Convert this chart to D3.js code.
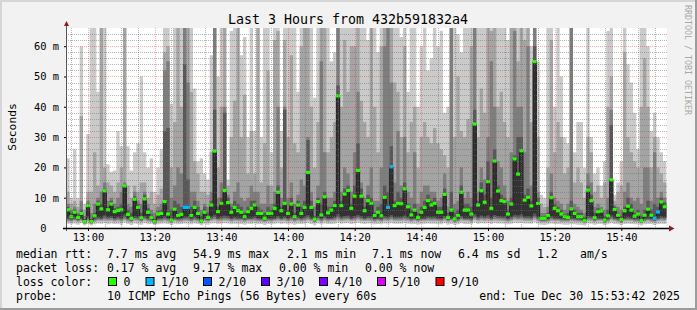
<!DOCTYPE html>
<html>
<head>
<meta charset="utf-8">
<script src="https://cdn.jsdelivr.net/npm/d3@7"></script>
<style>
  body { margin: 0; background: #f2f2f2; }
  svg { display: block; font-family: "DejaVu Sans Mono", monospace; }
</style>
</head>
<body>
<svg id="chart" width="697" height="310"></svg>
<script>
// ---- data (ms), one value per 60 s step, 10 pings sorted per step ----
const startTime = new Date(2025, 11, 30, 12, 53, 42)
const endTime = new Date(2025, 11, 30, 15, 53, 42)
const firstStep = new Date(2025, 11, 30, 12, 53, 30)
const stepMs = 60000

const median = [
  6, 3.7, 5.2, 3.5, 4.8, 2.1, 7.4, 2.1, 4, 7.9,
  6.3, 12.3, 6, 7.9, 5.4, 5.8, 6, 13.9, 4.5, 3.2,
  9.5, 6.8, 3.4, 9.6, 5.2, 3.5, 2.1, 4.6, 4.8, 8.7,
  4.6, 2.6, 6.2, 4.1, 4.5, 6.8, 6.8, 4.1, 6.8, 4.8,
  2.3, 5.2, 3.5, 7.6, 25.4, 5.4, 8.1, 12.4, 8.4, 5.2,
  6.8, 5.7, 5.2, 3.7, 5.4, 6.5, 7.6, 4.8, 4.8, 3.2,
  4.8, 4.8, 6.5, 11.8, 5.7, 8.1, 4.8, 7.9, 3.7, 7.6,
  4.8, 6.8, 18.3, 6.8, 2.9, 8.7, 4.3, 10.3, 5.0, 5.9,
  7.4, 43.6, 7.4, 11.2, 12.4, 6.5, 10.5, 19, 10.5, 5.7,
  9.0, 8.1, 4.1, 5.2, 4.0, 10.1, 6.8, 20.2, 7.4, 8.1,
  8.0, 12.9, 7.0, 4.3, 5.9, 3.5, 5.2, 6.8, 9.0, 7.6,
  8.1, 5.2, 5.2, 11.1, 3.5, 5.9, 3.0, 4.1, 11.8, 5.9,
  5.9, 4.6, 34.3, 7.6, 12.3, 8.5, 15.3, 6.5, 22.1, 12.2,
  9.0, 8.7, 4.6, 7.9, 22.8, 17.8, 25.5, 9.2, 10.1, 7.3,
  54.9, 8.1, 3.2, 3.2, 4.1, 10.0, 6.5, 5.7, 4.6, 3.7,
  3.5, 6.3, 4.8, 3.7, 3.7, 2.4, 12.5, 9.0, 3.4, 5.4,
  5.6, 2.6, 4.0, 15.9, 6.1, 4.2, 2.8, 5.7, 7.2, 5.9,
  3.9, 4.6, 2.4, 4.2, 6.2, 4.2, 3.2, 5.3, 8.6, 7.0
]

// steps with packet loss (in tenths), all others 0
const lossSteps = [35, 36, 96, 97, 176, 177]
const lossTenths = [1, 1, 1, 1, 1, 1]

const p1 = [
  1.4, 1.2, 1.5, 1.1, 1.6, 0.9, 1.3, 0.8, 1.2, 1.5,
  1.4, 1.6, 1.2, 1.5, 1.3, 1.4, 1.1, 1.7, 1.3, 1.0,
  1.5, 1.3, 1.1, 1.6, 1.2, 1.3, 0.9, 1.2, 1.4, 1.5,
  1.3, 1.0, 1.4, 1.2, 1.3, 1.5, 1.4, 1.2, 1.5, 1.3,
  0.9, 1.4, 1.1, 1.5, 1.6, 1.3, 1.4, 1.6, 1.5, 1.2,
  1.4, 1.3, 1.3, 1.1, 1.4, 1.3, 1.5, 1.2, 1.3, 1.0,
  1.3, 1.2, 1.4, 1.6, 1.3, 1.5, 1.2, 1.4, 1.1, 1.4,
  1.3, 1.4, 1.7, 1.3, 0.9, 1.5, 1.2, 1.5, 1.3, 1.3,
  1.4, 1.8, 1.4, 1.6, 1.6, 1.3, 1.5, 1.7, 1.5, 1.3,
  1.5, 1.4, 1.2, 1.3, 1.2, 1.5, 1.4, 1.6, 1.4, 1.4,
  1.4, 1.6, 1.4, 1.2, 1.3, 1.1, 1.3, 1.4, 1.5, 1.4,
  1.4, 1.3, 1.2, 1.6, 1.1, 1.3, 1.0, 1.2, 1.6, 1.3,
  1.3, 1.2, 1.8, 1.4, 1.6, 1.5, 1.6, 1.3, 1.7, 1.5,
  1.5, 1.4, 1.2, 1.4, 1.7, 1.6, 1.7, 1.5, 1.5, 1.4,
  1.9, 1.4, 1.1, 1.0, 1.2, 1.5, 1.3, 1.3, 1.2, 1.1,
  1.1, 1.3, 1.2, 1.1, 1.0, 0.8, 1.5, 1.4, 1.1, 1.3,
  1.3, 0.9, 1.2, 1.6, 1.3, 1.2, 0.9, 1.3, 1.4, 1.3,
  1.2, 1.2, 0.8, 1.2, 1.3, 1.2, 1.0, 1.3, 1.4, 1.3
]
const p2 = [
  2.1, 2.0, 2.2, 1.9, 2.2, 1.3, 2.2, 1.3, 2.0, 2.3,
  2.2, 2.4, 2.2, 2.3, 2.1, 2.2, 2.1, 2.5, 2.1, 1.9,
  2.3, 2.2, 1.9, 2.4, 2.1, 2.0, 1.3, 2.1, 2.1, 2.2,
  2.1, 1.6, 2.2, 2.0, 2.1, 2.2, 2.3, 2.0, 2.2, 2.1,
  1.5, 2.2, 1.9, 2.3, 2.5, 2.1, 2.2, 2.4, 2.3, 2.1,
  2.2, 2.2, 2.1, 2.0, 2.2, 2.1, 2.3, 2.1, 2.1, 1.9,
  2.1, 2.1, 2.2, 2.4, 2.2, 2.3, 2.1, 2.2, 2.0, 2.2,
  2.1, 2.2, 2.5, 2.2, 1.7, 2.3, 2.0, 2.3, 2.1, 2.2,
  2.2, 2.6, 2.2, 2.4, 2.5, 2.2, 2.3, 2.6, 2.3, 2.2,
  2.3, 2.2, 2.0, 2.2, 2.0, 2.3, 2.2, 2.5, 2.2, 2.2,
  2.2, 2.4, 2.2, 2.0, 2.2, 2.0, 2.2, 2.2, 2.3, 2.2,
  2.2, 2.2, 2.1, 2.4, 2.0, 2.2, 1.8, 2.0, 2.4, 2.2,
  2.2, 2.0, 2.6, 2.2, 2.5, 2.3, 2.5, 2.2, 2.5, 2.4,
  2.3, 2.2, 2.0, 2.2, 2.6, 2.5, 2.6, 2.3, 2.3, 2.2,
  2.7, 2.2, 1.9, 1.9, 2.0, 2.3, 2.2, 2.2, 2.0, 2.0,
  2.0, 2.2, 2.1, 2.0, 1.9, 1.5, 2.4, 2.2, 1.9, 2.2,
  2.2, 1.5, 2.0, 2.5, 2.2, 2.0, 1.6, 2.2, 2.2, 2.2,
  2.0, 2.0, 1.5, 2.0, 2.2, 2.0, 1.8, 2.2, 2.3, 2.2
]
const p3 = [
  2.5, 2.4, 2.6, 2.3, 2.6, 1.5, 2.7, 1.5, 2.4, 2.7,
  2.6, 2.9, 2.7, 2.8, 2.5, 2.7, 2.5, 3.0, 2.5, 2.2,
  2.8, 2.7, 2.3, 2.9, 2.5, 2.4, 1.5, 2.5, 2.5, 2.7,
  2.5, 1.9, 2.6, 2.4, 2.5, 2.7, 2.7, 2.4, 2.7, 2.5,
  1.7, 2.6, 2.3, 2.7, 3.0, 2.6, 2.7, 2.9, 2.8, 2.5,
  2.7, 2.6, 2.6, 2.4, 2.6, 2.6, 2.7, 2.5, 2.5, 2.2,
  2.5, 2.5, 2.6, 2.9, 2.6, 2.8, 2.5, 2.7, 2.4, 2.7,
  2.5, 2.7, 3.0, 2.6, 2.0, 2.8, 2.4, 2.8, 2.5, 2.6,
  2.7, 3.2, 2.7, 2.9, 3.0, 2.6, 2.8, 3.1, 2.8, 2.6,
  2.8, 2.7, 2.4, 2.6, 2.4, 2.8, 2.7, 3.0, 2.7, 2.7,
  2.7, 2.9, 2.7, 2.4, 2.6, 2.4, 2.6, 2.6, 2.8, 2.7,
  2.7, 2.6, 2.5, 2.9, 2.4, 2.6, 2.1, 2.4, 2.9, 2.6,
  2.6, 2.4, 3.2, 2.7, 3.0, 2.8, 3.0, 2.6, 3.0, 2.9,
  2.8, 2.7, 2.4, 2.7, 3.1, 3.0, 3.1, 2.8, 2.8, 2.7,
  3.3, 2.7, 2.2, 2.2, 2.4, 2.8, 2.6, 2.6, 2.4, 2.4,
  2.4, 2.6, 2.5, 2.4, 2.3, 1.8, 2.9, 2.7, 2.3, 2.6,
  2.6, 1.8, 2.4, 3.0, 2.6, 2.4, 1.9, 2.6, 2.7, 2.6,
  2.4, 2.4, 1.8, 2.4, 2.6, 2.4, 2.2, 2.6, 2.8, 2.7
]
const p4 = [
  2.9, 2.7, 3.0, 2.6, 3.0, 1.7, 3.2, 1.7, 2.8, 3.1,
  3.0, 3.5, 3.1, 3.3, 2.9, 3.1, 2.9, 3.6, 2.9, 2.5,
  3.3, 3.1, 2.6, 3.4, 2.9, 2.7, 1.7, 2.8, 2.9, 3.2,
  2.9, 2.1, 3.0, 2.8, 2.9, 3.1, 3.2, 2.8, 3.1, 2.9,
  1.9, 3.0, 2.6, 3.2, 3.6, 3.0, 3.2, 3.4, 3.3, 2.9,
  3.1, 3.0, 3.0, 2.7, 3.0, 3.0, 3.2, 2.9, 2.8, 2.5,
  2.9, 2.8, 3.0, 3.4, 3.0, 3.3, 2.9, 3.2, 2.8, 3.2,
  2.9, 3.1, 3.6, 3.0, 2.3, 3.3, 2.8, 3.3, 2.9, 3.0,
  3.2, 3.8, 3.1, 3.4, 3.5, 3.0, 3.3, 3.7, 3.3, 3.0,
  3.3, 3.2, 2.8, 3.0, 2.8, 3.3, 3.1, 3.6, 3.1, 3.2,
  3.2, 3.5, 3.1, 2.8, 3.0, 2.7, 3.0, 3.0, 3.3, 3.1,
  3.2, 3.0, 2.9, 3.4, 2.7, 3.0, 2.4, 2.8, 3.4, 3.0,
  3.0, 2.8, 3.8, 3.1, 3.5, 3.3, 3.5, 3.0, 3.6, 3.4,
  3.3, 3.2, 2.8, 3.2, 3.7, 3.5, 3.7, 3.3, 3.3, 3.1,
  3.9, 3.2, 2.5, 2.5, 2.8, 3.3, 3.0, 3.0, 2.8, 2.7,
  2.7, 3.0, 2.9, 2.7, 2.6, 2.0, 3.4, 3.2, 2.6, 3.0,
  3.0, 2.0, 2.8, 3.5, 3.0, 2.8, 2.2, 3.0, 3.1, 3.0,
  2.8, 2.8, 2.0, 2.8, 3.0, 2.8, 2.5, 3.0, 3.3, 3.1
]
const p5 = [
  3.4, 3.0, 3.6, 3.0, 3.5, 1.9, 3.8, 1.9, 3.2, 3.6,
  3.5, 4.2, 3.6, 3.9, 3.3, 3.7, 3.4, 4.5, 3.3, 2.8,
  3.9, 3.6, 2.9, 4.0, 3.4, 3.0, 1.9, 3.2, 3.3, 3.8,
  3.3, 2.3, 3.5, 3.1, 3.3, 3.6, 3.7, 3.2, 3.6, 3.3,
  2.1, 3.4, 2.9, 3.7, 4.4, 3.4, 3.8, 4.1, 3.9, 3.3,
  3.6, 3.5, 3.4, 3.0, 3.4, 3.5, 3.7, 3.3, 3.2, 2.8,
  3.3, 3.2, 3.5, 4.0, 3.4, 3.8, 3.3, 3.7, 3.1, 3.7,
  3.3, 3.6, 4.3, 3.5, 2.6, 3.8, 3.2, 3.9, 3.3, 3.4,
  3.7, 4.6, 3.6, 4.0, 4.1, 3.5, 3.9, 4.4, 3.9, 3.4,
  3.8, 3.7, 3.1, 3.4, 3.1, 3.9, 3.6, 4.3, 3.6, 3.7,
  3.7, 4.1, 3.6, 3.2, 3.4, 3.0, 3.4, 3.5, 3.8, 3.6,
  3.7, 3.4, 3.3, 4.0, 3.0, 3.4, 2.7, 3.1, 4.0, 3.4,
  3.5, 3.2, 4.6, 3.6, 4.1, 3.8, 4.2, 3.5, 4.3, 4.0,
  3.8, 3.7, 3.2, 3.7, 4.4, 4.2, 4.5, 3.8, 3.9, 3.6,
  4.8, 3.7, 2.8, 2.8, 3.1, 3.9, 3.5, 3.4, 3.2, 3.0,
  3.0, 3.5, 3.3, 3.0, 3.0, 2.2, 4.0, 3.8, 2.9, 3.4,
  3.4, 2.3, 3.1, 4.2, 3.5, 3.2, 2.5, 3.4, 3.6, 3.4,
  3.1, 3.2, 2.2, 3.2, 3.5, 3.2, 2.8, 3.4, 3.8, 3.6
]
const p7 = [
  7, 5, 6, 4.5, 6, 3, 8, 3, 5, 9,
  8, 13, 7, 9, 6.5, 7, 8, 14.5, 6, 5,
  10.5, 8, 5, 11, 6.5, 4.5, 3, 5.5, 6, 32,
  33, 6, 9, 8, 7, 54, 16, 7, 9, 7,
  4, 7, 5, 9, 39, 7, 10, 38, 10, 7,
  9, 8, 7, 5, 7, 9, 9, 7, 6, 5,
  7, 6, 8, 14, 7, 39, 6, 10, 5, 9,
  7, 9, 29, 9, 4, 10, 8, 12, 7, 7,
  9, 47, 9, 13, 14, 8, 14, 28, 13, 7,
  11, 10, 5, 7, 8, 14, 12, 27, 9, 12,
  10, 15, 8, 6, 8, 5, 7, 9, 11, 9,
  10, 7, 7, 13, 5, 12, 5, 6, 14, 8,
  8, 7, 39, 9, 15, 11, 22, 10, 26, 14,
  11, 10, 6, 10, 24, 30, 30, 11, 13, 9,
  60, 10, 4, 4, 5, 12, 8, 7, 6, 4.5,
  5, 9, 6, 5, 5, 3.5, 14, 11, 5, 6.5,
  6, 4, 6, 34, 7, 5, 4, 7, 10, 8,
  5, 6, 4, 6, 9, 6, 8, 7, 10, 8.5
]
const p8 = [
  8, 6, 7, 5, 9, 4, 9, 5, 8, 10,
  12, 15, 9, 10, 8, 10, 12, 15, 8, 7,
  12, 9, 8, 12, 8, 6, 5, 7, 8, 52,
  55, 10, 14, 20, 18, 70, 48, 12, 12, 9,
  6, 8, 7, 12, 70, 10, 15, 40, 11, 8,
  12, 15, 10, 9, 10, 14, 12, 12, 8, 8,
  14, 8, 12, 40, 10, 40, 10, 15, 8, 11,
  16, 14, 30, 12, 7, 14, 55, 25, 10, 10,
  12, 70, 12, 20, 18, 12, 25, 45, 15, 10,
  14, 20, 9, 9, 20, 60, 70, 48, 15, 32,
  14, 30, 12, 10, 25, 8, 12, 14, 14, 12,
  12, 9, 10, 18, 7, 70, 8, 9, 20, 10,
  12, 10, 70, 12, 20, 16, 30, 55, 40, 22,
  20, 14, 9, 25, 65, 40, 40, 25, 60, 14,
  70, 12, 5, 5, 7, 18, 10, 9, 8, 6,
  8, 70, 8, 7, 6, 5, 18, 15, 7, 8,
  7, 6, 10, 39, 7.5, 7, 6, 12, 15, 10,
  9, 10, 8, 20, 20, 9, 25, 10, 12, 10
]
const p9 = [
  12, 8, 9, 7, 37, 6, 12, 12, 25, 14,
  70, 20, 15, 14, 12, 15, 20, 70, 14, 10,
  14, 12, 15, 15, 10, 12, 8, 11, 13, 58,
  60, 20, 35, 70, 40, 70, 70, 45, 22, 18,
  12, 12, 11, 25, 70, 20, 40, 70, 14, 30,
  42, 70, 30, 44, 18, 32, 18, 70, 15, 28,
  52, 14, 62, 65, 20, 62, 30, 57, 28, 25,
  60, 70, 70, 40, 20, 35, 70, 70, 25, 30,
  35, 70, 40, 62, 45, 60, 60, 70, 42, 35,
  30, 70, 40, 25, 60, 70, 70, 70, 48, 45,
  30, 60, 25, 35, 40, 20, 30, 35, 30, 28,
  33, 28, 26, 24, 20, 70, 30, 50, 32, 30,
  36, 60, 70, 30, 46, 38, 70, 65, 70, 40,
  45, 35, 30, 70, 70, 55, 70, 62, 70, 35,
  70, 30, 8, 7, 20, 62, 25, 35, 30, 18,
  20, 70, 15, 20, 15, 10, 30, 25, 12, 14,
  10, 15, 40, 50, 9, 12, 14, 58, 30, 25,
  22, 20, 40, 56, 40, 20, 30, 20, 18, 15
]
const p10 = [
  23, 10, 26, 10, 60, 8, 31, 70, 70, 45,
  70, 70, 21, 18.6, 19, 32, 27, 70, 27, 19,
  25, 28, 50, 25, 20, 23, 12, 20, 26, 70,
  70, 41, 70, 70, 70, 70, 70, 70, 46, 22,
  23, 18, 16, 57, 70, 50, 70, 70, 16, 65,
  70, 70, 57, 63, 30, 70, 32, 70, 30, 70,
  70, 25, 70, 70, 32, 70, 70, 70, 70, 45,
  70, 70, 70, 70, 43, 70, 70, 70, 70, 55,
  58, 70, 70, 70, 70, 70, 70, 70, 70, 70,
  62, 70, 70, 58, 70, 70, 70, 70, 70, 70,
  63, 70, 45, 70, 70, 40, 60, 70, 52, 56,
  70, 60, 65, 38, 40, 70, 70, 64, 58, 66,
  70, 70, 70, 70, 70, 70, 70, 70, 70, 70,
  70, 66, 62, 70, 70, 70, 70, 70, 70, 60,
  70, 55, 11, 10, 70, 70, 40, 70, 50, 30,
  28, 70, 25, 35, 35, 20, 70, 30, 18, 20,
  14, 22, 65, 70, 11, 15, 22, 70, 54, 48,
  38, 26, 70, 70, 60, 32, 38, 30, 25, 22
]

const yMax = 66
const yMajorTicks = [0, 10, 20, 30, 40, 50, 60]
const lossLabels = ['0', '1/10', '2/10', '3/10', '4/10', '5/10', '9/10']
const lossTenthsKeys = [0, 1, 2, 3, 4, 5, 9]
const lossColors = ['#26ff00', '#00b8ff', '#0059ff', '#5e00ff', '#7e00ff', '#dd00ff', '#ff0000']
const rttStats = ['7.7 ms avg', '54.9 ms max', '2.1 ms min', '7.1 ms now', '6.4 ms sd', '1.2', 'am/s']
const lossStats = ['0.17 % avg', '9.17 % max', '0.00 % min', '0.00 % now']
const probeText = '10 ICMP Echo Pings (56 Bytes) every 60s'
const endText = 'end: Tue Dec 30 15:53:42 2025'
const title = 'Last 3 Hours from 432b591832a4'

// ---- layout ----
const W = 697
const H = 310
const plot = { left: 67, right: 667, top: 28, bottom: 228 }

const svg = d3.select('#chart')

const x = d3.scaleTime().domain([startTime, endTime]).range([plot.left, plot.right])
const y = d3.scaleLinear().domain([0, yMax]).range([plot.bottom, plot.top])

// dotted grid patterns: one pixel on, one off
const defs = svg.append('defs')
const dotPattern = (id, w, h, color) => {
  defs.append('pattern')
    .attr('id', id)
    .attr('patternUnits', 'userSpaceOnUse')
    .attr('width', w).attr('height', h)
    .append('rect').attr('width', 1).attr('height', 1).attr('fill', color)
}
dotPattern('vMinor', 1, 2, 'rgba(110,110,110,0.5)')
dotPattern('vMajor', 1, 2, 'rgba(255,0,0,0.32)')
dotPattern('hMinor', 2, 1, 'rgba(110,110,110,0.5)')
dotPattern('hMajor', 2, 1, 'rgba(255,0,0,0.32)')

defs.append('clipPath').attr('id', 'plotClip')
  .append('rect')
  .attr('x', plot.left).attr('y', plot.top)
  .attr('width', plot.right - plot.left).attr('height', plot.bottom - plot.top)

// frame
svg.append('rect').attr('width', W).attr('height', H).attr('fill', '#f2f2f2')
svg.append('rect').attr('x', 0).attr('y', 0).attr('width', W).attr('height', 2).attr('fill', '#d6d6d6')
svg.append('rect').attr('x', 0).attr('y', 0).attr('width', 2).attr('height', H).attr('fill', '#d6d6d6')
svg.append('rect').attr('x', W - 2).attr('y', 0).attr('width', 2).attr('height', H).attr('fill', '#9c9c9c')
svg.append('rect').attr('x', 0).attr('y', H - 2).attr('width', W).attr('height', 2).attr('fill', '#9c9c9c')

// canvas
svg.append('rect')
  .attr('x', plot.left).attr('y', plot.top)
  .attr('width', plot.right - plot.left).attr('height', plot.bottom - plot.top)
  .attr('fill', '#ffffff')

const g = svg.append('g').attr('clip-path', 'url(#plotClip)')

// step table
const steps = median.map((m, i) => ({
  t: new Date(firstStep.getTime() + i * stepMs),
  pings: [p1[i], p2[i], p3[i], p4[i], p5[i], m, p7[i], p8[i], p9[i], p10[i]],
  median: m,
  loss: lossSteps.includes(i) ? lossTenths[lossSteps.indexOf(i)] : 0,
}))
const last = steps[steps.length - 1]
const stepsClosed = steps.concat([{ ...last, t: new Date(last.t.getTime() + stepMs) }])

// smoke: outer pair lightest, inner pair darkest
const smokeColors = ['#cacaca', '#a4a4a4', '#7e7e7e', '#585858', '#323232']
smokeColors.forEach((color, k) => {
  const area = d3.area()
    .curve(d3.curveStepAfter)
    .x((d) => x(d.t))
    .y0((d) => y(d.pings[k]))
    .y1((d) => y(Math.min(d.pings[9 - k], yMax + 2)))
  g.append('path').datum(stepsClosed).attr('d', area).attr('fill', color)
})

// grid
const gridG = svg.append('g').attr('class', 'grid')
const yGrid = d3.range(2, yMax, 2).map((v) => ({ v, major: v % 10 === 0 }))
gridG.selectAll('rect.ygrid').data(yGrid).join('rect')
  .attr('class', 'ygrid')
  .attr('x', plot.left).attr('width', plot.right - plot.left)
  .attr('y', (d) => Math.round(y(d.v))).attr('height', 1)
  .attr('fill', (d) => (d.major ? 'url(#hMajor)' : 'url(#hMinor)'))

const xGrid = x.ticks(d3.timeMinute.every(5)).map((t) => ({ t, major: t.getMinutes() % 20 === 0 }))
const xMajor = xGrid.filter((d) => d.major).map((d) => d.t)
gridG.selectAll('rect.xgrid').data(xGrid).join('rect')
  .attr('class', 'xgrid')
  .attr('x', (d) => Math.round(x(d.t))).attr('width', 1)
  .attr('y', plot.top).attr('height', plot.bottom - plot.top)
  .attr('fill', (d) => (d.major ? 'url(#vMajor)' : 'url(#vMinor)'))

// median line and loss coloured dashes
const medianLine = d3.line()
  .curve(d3.curveStepAfter)
  .x((d) => x(d.t))
  .y((d) => y(d.median))
g.append('path').datum(stepsClosed).attr('d', medianLine)
  .attr('fill', 'none').attr('stroke', '#202020').attr('stroke-width', 1)

const lossColor = (tenths) => lossColors[lossTenthsKeys.indexOf(tenths)]
g.selectAll('rect.med').data(steps).join('rect')
  .attr('class', 'med')
  .attr('x', (d) => x(d.t) - 0.3)
  .attr('width', (d) => x(new Date(d.t.getTime() + stepMs)) - x(d.t) + 0.6)
  .attr('y', (d) => y(d.median) - 1.6)
  .attr('height', 3.2)
  .attr('fill', (d) => lossColor(d.loss))

// axes
const yAxis = d3.axisLeft(y)
  .tickValues(yMajorTicks)
  .tickSize(3)
  .tickPadding(5)
  .tickFormat((d) => (d === 0 ? '0' : `${d} m`))
const yAxisG = svg.append('g').attr('transform', `translate(${plot.left},0)`).call(yAxis)
yAxisG.select('.domain').remove()
yAxisG.selectAll('text').attr('font-family', 'DejaVu Sans Mono').attr('font-size', 10.4).attr('fill', '#000')
// "0" carries no unit, so it sits where the digit of the other labels sits
yAxisG.selectAll('.tick').filter((d) => d === 0).select('text').attr('dx', -12.5)

const xAxis = d3.axisBottom(x)
  .tickValues(xMajor)
  .tickSize(3)
  .tickPadding(3)
  .tickFormat(d3.timeFormat('%H:%M'))
const xAxisG = svg.append('g').attr('transform', `translate(0,${plot.bottom})`).call(xAxis)
xAxisG.select('.domain').remove()
xAxisG.selectAll('text').attr('font-family', 'DejaVu Sans Mono').attr('font-size', 10.4).attr('fill', '#000')

svg.append('line')
  .attr('x1', plot.left - 0.5).attr('x2', plot.left - 0.5)
  .attr('y1', plot.top - 3).attr('y2', plot.bottom + 3)
  .attr('stroke', '#555').attr('stroke-width', 1)
svg.append('line')
  .attr('x1', plot.left - 4).attr('x2', plot.right + 3)
  .attr('y1', plot.bottom + 0.5).attr('y2', plot.bottom + 0.5)
  .attr('stroke', '#000').attr('stroke-width', 1.4)
svg.append('path')
  .attr('d', `M${plot.left - 3},${plot.top - 2}L${plot.left - 0.5},${plot.top - 7}L${plot.left + 2},${plot.top - 2}Z`)
  .attr('fill', '#8b1a1a')
svg.append('path')
  .attr('d', `M${plot.right + 2},${plot.bottom - 2.5}L${plot.right + 7.5},${plot.bottom + 0.5}L${plot.right + 2},${plot.bottom + 3.5}Z`)
  .attr('fill', '#8b1a1a')

// titles
svg.append('text')
  .attr('x', 348).attr('y', 24)
  .attr('text-anchor', 'middle')
  .attr('font-size', 13.3)
  .text(title)

svg.append('text')
  .attr('transform', 'translate(15.5,127) rotate(-90)')
  .attr('text-anchor', 'middle')
  .attr('font-size', 11.3)
  .text('Seconds')

svg.append('text')
  .attr('transform', 'translate(685,5) rotate(90)')
  .attr('font-size', 8.3)
  .attr('fill', '#a8a8a8')
  .text('RRDTOOL / TOBI OETIKER')

// legend
const legend = svg.append('g').attr('font-size', 11.5).attr('fill', '#000')
const rowY = [258, 272, 286, 300]
const rttX = [107, 193, 287, 372, 458, 537, 580]
const lossX = [107, 193, 279, 365]
const boxX = [108.5, 146, 203.5, 261.5, 319.5, 377.5, 436]

legend.append('text').attr('x', 16).attr('y', rowY[0]).text('median rtt:')
legend.selectAll('text.rtt').data(rttStats).join('text')
  .attr('class', 'rtt').attr('x', (d, i) => rttX[i]).attr('y', rowY[0]).text((d) => d)

legend.append('text').attr('x', 16).attr('y', rowY[1]).text('packet loss:')
legend.selectAll('text.loss').data(lossStats).join('text')
  .attr('class', 'loss').attr('x', (d, i) => lossX[i]).attr('y', rowY[1]).text((d) => d)

legend.append('text').attr('x', 16).attr('y', rowY[2]).text('loss color:')
legend.selectAll('rect.box').data(lossLabels).join('rect')
  .attr('class', 'box')
  .attr('x', (d, i) => boxX[i]).attr('y', rowY[2] - 8.5)
  .attr('width', 8).attr('height', 8)
  .attr('fill', (d, i) => lossColors[i])
  .attr('stroke', '#000').attr('stroke-width', 1)
legend.selectAll('text.lc').data(lossLabels).join('text')
  .attr('class', 'lc').attr('x', (d, i) => boxX[i] + 15).attr('y', rowY[2]).text((d) => d)

legend.append('text').attr('x', 16).attr('y', rowY[3]).text('probe:')
legend.append('text').attr('x', 107).attr('y', rowY[3]).text(probeText)
legend.append('text').attr('x', 680).attr('y', rowY[3]).attr('text-anchor', 'end').text(endText)
</script>
</body>
</html>
